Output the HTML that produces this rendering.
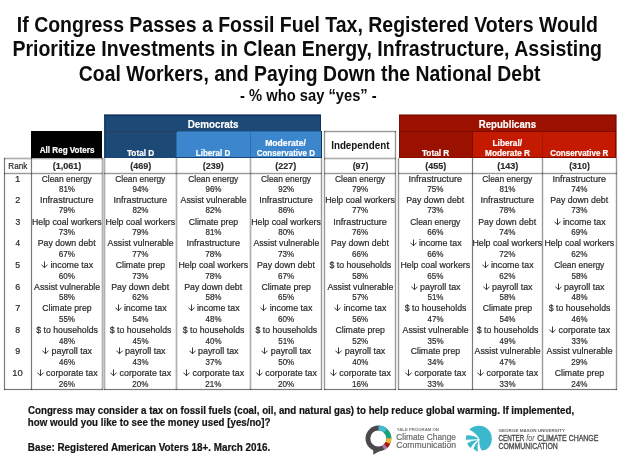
<!DOCTYPE html>
<html><head><meta charset="utf-8"><title>Fossil Fuel Tax Priorities</title>
<style>
html,body{margin:0;padding:0;background:#fff}
#page{position:relative;width:620px;height:465px;overflow:hidden;background:#fff;font-family:"Liberation Sans",sans-serif}
.r,.ar{position:absolute}
.v{width:1px}
.h{height:1px}
.v.l{background:rgba(0,0,0,.31);box-shadow:-1px 0 0 rgba(0,0,0,.11),1px 0 0 rgba(0,0,0,.11)}
.v.m{background:rgba(0,0,0,.40);box-shadow:-1px 0 0 rgba(0,0,0,.08),1px 0 0 rgba(0,0,0,.08)}
.v.d{background:rgba(0,0,0,.52);box-shadow:-1px 0 0 rgba(0,0,0,.05),1px 0 0 rgba(0,0,0,.05)}
.h.l{background:rgba(0,0,0,.31);box-shadow:0 -1px 0 rgba(0,0,0,.11),0 1px 0 rgba(0,0,0,.11)}
.h.m{background:rgba(0,0,0,.40);box-shadow:0 -1px 0 rgba(0,0,0,.08),0 1px 0 rgba(0,0,0,.08)}
.h.d{background:rgba(0,0,0,.52);box-shadow:0 -1px 0 rgba(0,0,0,.05),0 1px 0 rgba(0,0,0,.05)}
.t{position:absolute;left:0;top:0;white-space:nowrap;line-height:1;transform-origin:0 0;font-family:"Liberation Sans",sans-serif}
.lb,.pc,.rk{-webkit-text-stroke:0.2px #2a2a2a}
.sh,.hd{-webkit-text-stroke:0.2px #fff}
.n{-webkit-text-stroke:0.15px #2a2a2a}
.ft{-webkit-text-stroke:0.2px #141414}
.ly{-webkit-text-stroke:0.2px #6a6a6a}
.lm{-webkit-text-stroke:0.35px #4d4d4d}
#txt{position:absolute;left:0;top:0;width:620px;height:465px;will-change:transform}
</style></head><body>
<div id="page">
<div class="r" style="left:31px;top:131px;width:71px;height:27px;background:#000;"></div>
<div class="r" style="left:104px;top:114px;width:217px;height:1px;background:#6f839d;"></div>
<div class="r" style="left:104px;top:115px;width:217px;height:1px;background:#0f305c;"></div>
<div class="r" style="left:104px;top:116px;width:217px;height:15px;background:#1c4975;"></div>
<div class="r" style="left:104px;top:131px;width:73px;height:26px;background:#1c4975;"></div>
<div class="r" style="left:177px;top:131px;width:145px;height:1px;background:#2e6ba5;"></div>
<div class="r" style="left:177px;top:132px;width:145px;height:25px;background:#3c86cd;"></div>
<div class="r" style="left:104px;top:157px;width:218px;height:1px;background:#184478;"></div>
<div class="r" style="left:320px;top:115px;width:1px;height:16px;background:#0f305c;"></div>
<div class="r" style="left:321px;top:131px;width:1px;height:27px;background:#0f305c;"></div>
<div class="r" style="left:105px;top:116px;width:1px;height:41px;background:#153c68;"></div>
<div class="r" style="left:176px;top:132px;width:1px;height:25px;background:#2c68a1;"></div>
<div class="r" style="left:104px;top:131px;width:73px;height:1px;background:repeating-linear-gradient(90deg,#33343a 0 1px,#1c4975 1px 2px)"></div>
<div class="r" style="left:250px;top:132px;width:1px;height:25px;background:repeating-linear-gradient(180deg,#24588f 0 1px,#3c86cd 1px 2px)"></div>
<div class="r" style="left:399px;top:114px;width:218px;height:1px;background:#b87973;"></div>
<div class="r" style="left:399px;top:115px;width:218px;height:1px;background:#7d0b00;"></div>
<div class="r" style="left:399px;top:116px;width:218px;height:15px;background:#9a1100;"></div>
<div class="r" style="left:399px;top:131px;width:74px;height:26px;background:#9a1100;"></div>
<div class="r" style="left:473px;top:131px;width:144px;height:26px;background:#c41a02;"></div>
<div class="r" style="left:399px;top:131px;width:218px;height:1px;background:#7d0b00;"></div>
<div class="r" style="left:472px;top:131px;width:1px;height:26px;background:#7d0b00;"></div>
<div class="r" style="left:542px;top:132px;width:1px;height:25px;background:repeating-linear-gradient(180deg,#8e1000 0 1px,#c41a02 1px 2px)"></div>
<div class="r" style="left:399px;top:157px;width:218px;height:1px;background:#8a0e00;"></div>
<div class="r" style="left:399px;top:115px;width:1px;height:43px;background:#7d0b00;"></div>
<div class="r" style="left:615px;top:115px;width:1px;height:43px;background:#7d0b00;"></div>
<div class="r" style="left:616px;top:115px;width:1px;height:43px;background:#b16d66;"></div>
<div class="r" style="left:616px;top:114px;width:1px;height:1px;background:#d8b6b2;"></div>
<div class="r h l" style="left:4px;top:158px;width:99px"></div>
<div class="r h l" style="left:324px;top:158px;width:72px"></div>
<div class="r h m" style="left:4px;top:173px;width:99px"></div>
<div class="r h m" style="left:104px;top:173px;width:218px"></div>
<div class="r h m" style="left:324px;top:173px;width:72px"></div>
<div class="r h m" style="left:398px;top:173px;width:219px"></div>
<div class="r h d" style="left:4px;top:389px;width:99px"></div>
<div class="r h d" style="left:104px;top:389px;width:218px"></div>
<div class="r h d" style="left:324px;top:389px;width:72px"></div>
<div class="r h d" style="left:398px;top:389px;width:219px"></div>
<div class="r h m" style="left:324px;top:131px;width:72px"></div>
<div class="r v d" style="left:4px;top:158px;height:232px"></div>
<div class="r v d" style="left:31px;top:158px;height:232px"></div>
<div class="r v d" style="left:472px;top:158px;height:232px"></div>
<div class="r v m" style="left:321px;top:158px;height:232px"></div>
<div class="r v m" style="left:398px;top:158px;height:232px"></div>
<div class="r v m" style="left:542px;top:158px;height:232px"></div>
<div class="r v m" style="left:616px;top:158px;height:232px"></div>
<div class="r v l" style="left:102px;top:158px;height:232px"></div>
<div class="r v l" style="left:104px;top:158px;height:232px"></div>
<div class="r v l" style="left:176px;top:158px;height:232px"></div>
<div class="r v l" style="left:250px;top:158px;height:232px"></div>
<div class="r v m" style="left:324px;top:131px;height:259px"></div>
<div class="r v m" style="left:395px;top:131px;height:259px"></div>
<svg class="r" style="left:360px;top:420px" width="40" height="40" viewBox="0 0 40 40">
 <g transform="translate(18.4,18.5)">
  <circle r="10.5" fill="none" stroke="#4a4a4c" stroke-width="4.8"/>
  <path d="M-5.2,10.2 L-5.1,16.3 L6.2,9.6 Z" fill="#4a4a4c"/>
  <path d="M0.18,-10.50 A10.5,10.5 0 0 1 7.29,-7.55" fill="none" stroke="#42bbd3" stroke-width="4.8"/>
  <path d="M7.29,-7.55 A10.5,10.5 0 0 1 10.50,-0.27" fill="none" stroke="#17a57b" stroke-width="4.8"/>
  <path d="M10.50,-0.27 A10.5,10.5 0 0 1 9.48,4.52" fill="none" stroke="#f2b52c" stroke-width="4.8"/>
  <path d="M9.48,4.52 A10.5,10.5 0 0 1 7.29,7.55" fill="none" stroke="#ad1512" stroke-width="4.8"/>
  <path d="M7.29,7.55 A10.5,10.5 0 0 1 4.93,9.27" fill="none" stroke="#b378b0" stroke-width="4.8"/>
 </g>
</svg>
<svg class="r" style="left:462px;top:422px" width="36" height="34" viewBox="0 0 492 465">
 <g fill="#3cb7cb">
  <path d="M98,104 C150,52 262,28 342,88 C402,134 428,228 392,308 C366,362 322,394 268,388 Q226,318 240,232 Q186,150 98,104Z"/>
  <path d="M222,226 Q150,176 62,181 Q46,210 56,244 L214,237Z"/>
  <path d="M214,246 Q130,250 70,292 Q84,332 118,357 Q150,292 214,246Z"/>
  <path d="M227,256 Q175,300 156,362 Q184,394 220,406 Q202,320 227,256Z"/>
 </g>
</svg>

<div id="txt">
<span class="t title" style="font-size:21.6px;font-weight:700;color:#0c0c0c;transform:translate(16.83px,14.00px) scaleX(0.9019)">If Congress Passes a Fossil Fuel Tax, Registered Voters Would</span>
<span class="t title" style="font-size:21.6px;font-weight:700;color:#0c0c0c;transform:translate(12.43px,38.00px) scaleX(0.9032)">Prioritize Investments in Clean Energy, Infrastructure, Assisting</span>
<span class="t title" style="font-size:21.6px;font-weight:700;color:#0c0c0c;transform:translate(78.82px,63.00px) scaleX(0.8975)">Coal Workers, and Paying Down the National Debt</span>
<span class="t sub" style="font-size:15.6px;font-weight:700;color:#0c0c0c;transform:translate(240.06px,88.00px) scaleX(0.9440)">- % who say “yes” -</span>
<span class="t hd" style="font-size:11.6px;font-weight:700;color:#ffffff;transform:translate(187.66px,118.00px) scaleX(0.8497)">Democrats</span>
<span class="t hd" style="font-size:11.6px;font-weight:700;color:#ffffff;transform:translate(478.67px,118.00px) scaleX(0.8326)">Republicans</span>
<span class="t sh" style="font-size:8.8px;font-weight:700;color:#ffffff;transform:translate(39.74px,146.00px) scaleX(0.9186)">All Reg Voters</span>
<span class="t sh" style="font-size:8.8px;font-weight:700;color:#ffffff;transform:translate(126.92px,149.00px) scaleX(0.9376)">Total D</span>
<span class="t sh" style="font-size:8.8px;font-weight:700;color:#ffffff;transform:translate(195.77px,149.00px) scaleX(0.9161)">Liberal D</span>
<span class="t sh" style="font-size:8.8px;font-weight:700;color:#ffffff;transform:translate(265.18px,139.00px) scaleX(0.9788)">Moderate/</span>
<span class="t sh" style="font-size:8.8px;font-weight:700;color:#ffffff;transform:translate(256.68px,149.00px) scaleX(0.9096)">Conservative D</span>
<span class="t ind" style="font-size:11.2px;font-weight:700;color:#141414;transform:translate(331.16px,140.00px) scaleX(0.8767)">Independent</span>
<span class="t sh" style="font-size:8.8px;font-weight:700;color:#ffffff;transform:translate(421.92px,149.00px) scaleX(0.9406)">Total R</span>
<span class="t sh" style="font-size:8.8px;font-weight:700;color:#ffffff;transform:translate(492.50px,139.00px) scaleX(0.9446)">Liberal/</span>
<span class="t sh" style="font-size:8.8px;font-weight:700;color:#ffffff;transform:translate(485.00px,149.00px) scaleX(0.9411)">Moderate R</span>
<span class="t sh" style="font-size:8.8px;font-weight:700;color:#ffffff;transform:translate(550.18px,149.00px) scaleX(0.9079)">Conservative R</span>
<span class="t rk" style="font-size:8.8px;font-weight:400;color:#2a2a2a;transform:translate(8.35px,162.00px) scaleX(0.9284)">Rank</span>
<span class="t n" style="font-size:8.8px;font-weight:700;color:#2a2a2a;transform:translate(52.64px,162.00px) scaleX(1.0312)">(1,061)</span>
<span class="t n" style="font-size:8.8px;font-weight:700;color:#2a2a2a;transform:translate(130.14px,162.00px) scaleX(1.0221)">(469)</span>
<span class="t n" style="font-size:8.8px;font-weight:700;color:#2a2a2a;transform:translate(202.64px,162.00px) scaleX(1.0221)">(239)</span>
<span class="t n" style="font-size:8.8px;font-weight:700;color:#2a2a2a;transform:translate(275.14px,162.00px) scaleX(1.0221)">(227)</span>
<span class="t n" style="font-size:8.8px;font-weight:700;color:#2a2a2a;transform:translate(352.65px,162.00px) scaleX(1.0054)">(97)</span>
<span class="t n" style="font-size:8.8px;font-weight:700;color:#2a2a2a;transform:translate(425.14px,162.00px) scaleX(1.0221)">(455)</span>
<span class="t n" style="font-size:8.8px;font-weight:700;color:#2a2a2a;transform:translate(497.14px,162.00px) scaleX(1.0347)">(143)</span>
<span class="t n" style="font-size:8.8px;font-weight:700;color:#2a2a2a;transform:translate(569.14px,162.00px) scaleX(1.0094)">(310)</span>
<span class="t rk" style="font-size:8.8px;font-weight:400;color:#2a2a2a;transform:translate(14.98px,175.00px) scaleX(1.0847)">1</span>
<span class="t lb" style="font-size:8.8px;font-weight:400;color:#2a2a2a;transform:translate(41.73px,175.00px) scaleX(0.9575)">Clean energy</span>
<span class="t pc" style="font-size:8.8px;font-weight:400;color:#2a2a2a;transform:translate(58.93px,185.00px) scaleX(0.9115)">81%</span>
<span class="t lb" style="font-size:8.8px;font-weight:400;color:#2a2a2a;transform:translate(115.23px,175.00px) scaleX(0.9575)">Clean energy</span>
<span class="t pc" style="font-size:8.8px;font-weight:400;color:#2a2a2a;transform:translate(132.43px,185.00px) scaleX(0.9115)">94%</span>
<span class="t lb" style="font-size:8.8px;font-weight:400;color:#2a2a2a;transform:translate(188.23px,175.00px) scaleX(0.9575)">Clean energy</span>
<span class="t pc" style="font-size:8.8px;font-weight:400;color:#2a2a2a;transform:translate(205.43px,185.00px) scaleX(0.9115)">96%</span>
<span class="t lb" style="font-size:8.8px;font-weight:400;color:#2a2a2a;transform:translate(260.98px,175.00px) scaleX(0.9575)">Clean energy</span>
<span class="t pc" style="font-size:8.8px;font-weight:400;color:#2a2a2a;transform:translate(278.18px,185.00px) scaleX(0.9115)">92%</span>
<span class="t lb" style="font-size:8.8px;font-weight:400;color:#2a2a2a;transform:translate(334.98px,175.00px) scaleX(0.9575)">Clean energy</span>
<span class="t pc" style="font-size:8.8px;font-weight:400;color:#2a2a2a;transform:translate(352.10px,185.00px) scaleX(0.9163)">79%</span>
<span class="t lb" style="font-size:8.8px;font-weight:400;color:#2a2a2a;transform:translate(408.43px,175.00px) scaleX(1.0349)">Infrastructure</span>
<span class="t pc" style="font-size:8.8px;font-weight:400;color:#2a2a2a;transform:translate(427.35px,185.00px) scaleX(0.9163)">75%</span>
<span class="t lb" style="font-size:8.8px;font-weight:400;color:#2a2a2a;transform:translate(482.23px,175.00px) scaleX(0.9575)">Clean energy</span>
<span class="t pc" style="font-size:8.8px;font-weight:400;color:#2a2a2a;transform:translate(499.43px,185.00px) scaleX(0.9115)">81%</span>
<span class="t lb" style="font-size:8.8px;font-weight:400;color:#2a2a2a;transform:translate(552.43px,175.00px) scaleX(1.0349)">Infrastructure</span>
<span class="t pc" style="font-size:8.8px;font-weight:400;color:#2a2a2a;transform:translate(571.35px,185.00px) scaleX(0.9163)">74%</span>
<span class="t rk" style="font-size:8.8px;font-weight:400;color:#2a2a2a;transform:translate(15.19px,196.00px) scaleX(1.0375)">2</span>
<span class="t lb" style="font-size:8.8px;font-weight:400;color:#2a2a2a;transform:translate(39.93px,196.00px) scaleX(1.0349)">Infrastructure</span>
<span class="t pc" style="font-size:8.8px;font-weight:400;color:#2a2a2a;transform:translate(58.85px,206.00px) scaleX(0.9163)">79%</span>
<span class="t lb" style="font-size:8.8px;font-weight:400;color:#2a2a2a;transform:translate(113.43px,196.00px) scaleX(1.0349)">Infrastructure</span>
<span class="t pc" style="font-size:8.8px;font-weight:400;color:#2a2a2a;transform:translate(132.43px,206.00px) scaleX(0.9115)">82%</span>
<span class="t lb" style="font-size:8.8px;font-weight:400;color:#2a2a2a;transform:translate(180.62px,196.00px) scaleX(0.9932)">Assist vulnerable</span>
<span class="t pc" style="font-size:8.8px;font-weight:400;color:#2a2a2a;transform:translate(205.43px,206.00px) scaleX(0.9115)">82%</span>
<span class="t lb" style="font-size:8.8px;font-weight:400;color:#2a2a2a;transform:translate(259.18px,196.00px) scaleX(1.0349)">Infrastructure</span>
<span class="t pc" style="font-size:8.8px;font-weight:400;color:#2a2a2a;transform:translate(278.18px,206.00px) scaleX(0.9115)">86%</span>
<span class="t lb" style="font-size:8.8px;font-weight:400;color:#2a2a2a;transform:translate(325.17px,196.00px) scaleX(0.9968)">Help coal workers</span>
<span class="t pc" style="font-size:8.8px;font-weight:400;color:#2a2a2a;transform:translate(352.10px,206.00px) scaleX(0.9163)">77%</span>
<span class="t lb" style="font-size:8.8px;font-weight:400;color:#2a2a2a;transform:translate(406.17px,196.00px) scaleX(0.9951)">Pay down debt</span>
<span class="t pc" style="font-size:8.8px;font-weight:400;color:#2a2a2a;transform:translate(427.35px,206.00px) scaleX(0.9163)">73%</span>
<span class="t lb" style="font-size:8.8px;font-weight:400;color:#2a2a2a;transform:translate(480.43px,196.00px) scaleX(1.0349)">Infrastructure</span>
<span class="t pc" style="font-size:8.8px;font-weight:400;color:#2a2a2a;transform:translate(499.35px,206.00px) scaleX(0.9163)">78%</span>
<span class="t lb" style="font-size:8.8px;font-weight:400;color:#2a2a2a;transform:translate(550.17px,196.00px) scaleX(0.9951)">Pay down debt</span>
<span class="t pc" style="font-size:8.8px;font-weight:400;color:#2a2a2a;transform:translate(571.35px,206.00px) scaleX(0.9163)">73%</span>
<span class="t rk" style="font-size:8.8px;font-weight:400;color:#2a2a2a;transform:translate(15.39px,218.00px) scaleX(0.9740)">3</span>
<span class="t lb" style="font-size:8.8px;font-weight:400;color:#2a2a2a;transform:translate(31.92px,218.00px) scaleX(0.9968)">Help coal workers</span>
<span class="t pc" style="font-size:8.8px;font-weight:400;color:#2a2a2a;transform:translate(58.85px,228.00px) scaleX(0.9163)">73%</span>
<span class="t lb" style="font-size:8.8px;font-weight:400;color:#2a2a2a;transform:translate(105.42px,218.00px) scaleX(0.9968)">Help coal workers</span>
<span class="t pc" style="font-size:8.8px;font-weight:400;color:#2a2a2a;transform:translate(132.35px,228.00px) scaleX(0.9163)">79%</span>
<span class="t lb" style="font-size:8.8px;font-weight:400;color:#2a2a2a;transform:translate(188.69px,218.00px) scaleX(0.9923)">Climate prep</span>
<span class="t pc" style="font-size:8.8px;font-weight:400;color:#2a2a2a;transform:translate(205.43px,228.00px) scaleX(0.9115)">81%</span>
<span class="t lb" style="font-size:8.8px;font-weight:400;color:#2a2a2a;transform:translate(251.17px,218.00px) scaleX(0.9968)">Help coal workers</span>
<span class="t pc" style="font-size:8.8px;font-weight:400;color:#2a2a2a;transform:translate(278.18px,228.00px) scaleX(0.9115)">80%</span>
<span class="t lb" style="font-size:8.8px;font-weight:400;color:#2a2a2a;transform:translate(333.18px,218.00px) scaleX(1.0349)">Infrastructure</span>
<span class="t pc" style="font-size:8.8px;font-weight:400;color:#2a2a2a;transform:translate(352.10px,228.00px) scaleX(0.9163)">76%</span>
<span class="t lb" style="font-size:8.8px;font-weight:400;color:#2a2a2a;transform:translate(410.23px,218.00px) scaleX(0.9575)">Clean energy</span>
<span class="t pc" style="font-size:8.8px;font-weight:400;color:#2a2a2a;transform:translate(427.35px,228.00px) scaleX(0.9163)">66%</span>
<span class="t lb" style="font-size:8.8px;font-weight:400;color:#2a2a2a;transform:translate(478.17px,218.00px) scaleX(0.9951)">Pay down debt</span>
<span class="t pc" style="font-size:8.8px;font-weight:400;color:#2a2a2a;transform:translate(499.35px,228.00px) scaleX(0.9163)">74%</span>
<span class="t lb" style="font-size:8.8px;font-weight:400;color:#2a2a2a;transform:translate(562.89px,218.00px) scaleX(1.0051)">income tax</span>
<span class="t pc" style="font-size:8.8px;font-weight:400;color:#2a2a2a;transform:translate(571.35px,228.00px) scaleX(0.9163)">69%</span>
<span class="t rk" style="font-size:8.8px;font-weight:400;color:#2a2a2a;transform:translate(15.49px,239.00px) scaleX(0.9358)">4</span>
<span class="t lb" style="font-size:8.8px;font-weight:400;color:#2a2a2a;transform:translate(37.67px,239.00px) scaleX(0.9951)">Pay down debt</span>
<span class="t pc" style="font-size:8.8px;font-weight:400;color:#2a2a2a;transform:translate(58.85px,250.00px) scaleX(0.9163)">67%</span>
<span class="t lb" style="font-size:8.8px;font-weight:400;color:#2a2a2a;transform:translate(107.62px,239.00px) scaleX(0.9932)">Assist vulnerable</span>
<span class="t pc" style="font-size:8.8px;font-weight:400;color:#2a2a2a;transform:translate(132.35px,250.00px) scaleX(0.9163)">77%</span>
<span class="t lb" style="font-size:8.8px;font-weight:400;color:#2a2a2a;transform:translate(186.43px,239.00px) scaleX(1.0349)">Infrastructure</span>
<span class="t pc" style="font-size:8.8px;font-weight:400;color:#2a2a2a;transform:translate(205.35px,250.00px) scaleX(0.9163)">78%</span>
<span class="t lb" style="font-size:8.8px;font-weight:400;color:#2a2a2a;transform:translate(253.38px,239.00px) scaleX(0.9932)">Assist vulnerable</span>
<span class="t pc" style="font-size:8.8px;font-weight:400;color:#2a2a2a;transform:translate(278.10px,250.00px) scaleX(0.9163)">73%</span>
<span class="t lb" style="font-size:8.8px;font-weight:400;color:#2a2a2a;transform:translate(330.92px,239.00px) scaleX(0.9951)">Pay down debt</span>
<span class="t pc" style="font-size:8.8px;font-weight:400;color:#2a2a2a;transform:translate(352.10px,250.00px) scaleX(0.9163)">66%</span>
<span class="t lb" style="font-size:8.8px;font-weight:400;color:#2a2a2a;transform:translate(418.89px,239.00px) scaleX(1.0051)">income tax</span>
<span class="t pc" style="font-size:8.8px;font-weight:400;color:#2a2a2a;transform:translate(427.35px,250.00px) scaleX(0.9163)">66%</span>
<span class="t lb" style="font-size:8.8px;font-weight:400;color:#2a2a2a;transform:translate(472.42px,239.00px) scaleX(0.9968)">Help coal workers</span>
<span class="t pc" style="font-size:8.8px;font-weight:400;color:#2a2a2a;transform:translate(499.35px,250.00px) scaleX(0.9163)">72%</span>
<span class="t lb" style="font-size:8.8px;font-weight:400;color:#2a2a2a;transform:translate(544.42px,239.00px) scaleX(0.9968)">Help coal workers</span>
<span class="t pc" style="font-size:8.8px;font-weight:400;color:#2a2a2a;transform:translate(571.35px,250.00px) scaleX(0.9163)">62%</span>
<span class="t rk" style="font-size:8.8px;font-weight:400;color:#2a2a2a;transform:translate(15.30px,261.00px) scaleX(0.9943)">5</span>
<span class="t lb" style="font-size:8.8px;font-weight:400;color:#2a2a2a;transform:translate(50.39px,261.00px) scaleX(1.0051)">income tax</span>
<span class="t pc" style="font-size:8.8px;font-weight:400;color:#2a2a2a;transform:translate(58.85px,272.00px) scaleX(0.9163)">60%</span>
<span class="t lb" style="font-size:8.8px;font-weight:400;color:#2a2a2a;transform:translate(115.69px,261.00px) scaleX(0.9923)">Climate prep</span>
<span class="t pc" style="font-size:8.8px;font-weight:400;color:#2a2a2a;transform:translate(132.35px,272.00px) scaleX(0.9163)">73%</span>
<span class="t lb" style="font-size:8.8px;font-weight:400;color:#2a2a2a;transform:translate(178.42px,261.00px) scaleX(0.9968)">Help coal workers</span>
<span class="t pc" style="font-size:8.8px;font-weight:400;color:#2a2a2a;transform:translate(205.35px,272.00px) scaleX(0.9163)">78%</span>
<span class="t lb" style="font-size:8.8px;font-weight:400;color:#2a2a2a;transform:translate(256.92px,261.00px) scaleX(0.9951)">Pay down debt</span>
<span class="t pc" style="font-size:8.8px;font-weight:400;color:#2a2a2a;transform:translate(278.10px,272.00px) scaleX(0.9163)">67%</span>
<span class="t lb" style="font-size:8.8px;font-weight:400;color:#2a2a2a;transform:translate(329.54px,261.00px) scaleX(0.9913)">$ to households</span>
<span class="t pc" style="font-size:8.8px;font-weight:400;color:#2a2a2a;transform:translate(352.18px,272.00px) scaleX(0.9115)">58%</span>
<span class="t lb" style="font-size:8.8px;font-weight:400;color:#2a2a2a;transform:translate(400.42px,261.00px) scaleX(0.9968)">Help coal workers</span>
<span class="t pc" style="font-size:8.8px;font-weight:400;color:#2a2a2a;transform:translate(427.35px,272.00px) scaleX(0.9163)">65%</span>
<span class="t lb" style="font-size:8.8px;font-weight:400;color:#2a2a2a;transform:translate(490.89px,261.00px) scaleX(1.0051)">income tax</span>
<span class="t pc" style="font-size:8.8px;font-weight:400;color:#2a2a2a;transform:translate(499.35px,272.00px) scaleX(0.9163)">62%</span>
<span class="t lb" style="font-size:8.8px;font-weight:400;color:#2a2a2a;transform:translate(554.23px,261.00px) scaleX(0.9575)">Clean energy</span>
<span class="t pc" style="font-size:8.8px;font-weight:400;color:#2a2a2a;transform:translate(571.43px,272.00px) scaleX(0.9115)">58%</span>
<span class="t rk" style="font-size:8.8px;font-weight:400;color:#2a2a2a;transform:translate(15.20px,283.00px) scaleX(1.0155)">6</span>
<span class="t lb" style="font-size:8.8px;font-weight:400;color:#2a2a2a;transform:translate(34.12px,283.00px) scaleX(0.9932)">Assist vulnerable</span>
<span class="t pc" style="font-size:8.8px;font-weight:400;color:#2a2a2a;transform:translate(58.93px,293.00px) scaleX(0.9115)">58%</span>
<span class="t lb" style="font-size:8.8px;font-weight:400;color:#2a2a2a;transform:translate(111.17px,283.00px) scaleX(0.9951)">Pay down debt</span>
<span class="t pc" style="font-size:8.8px;font-weight:400;color:#2a2a2a;transform:translate(132.35px,293.00px) scaleX(0.9163)">62%</span>
<span class="t lb" style="font-size:8.8px;font-weight:400;color:#2a2a2a;transform:translate(184.17px,283.00px) scaleX(0.9951)">Pay down debt</span>
<span class="t pc" style="font-size:8.8px;font-weight:400;color:#2a2a2a;transform:translate(205.43px,293.00px) scaleX(0.9115)">58%</span>
<span class="t lb" style="font-size:8.8px;font-weight:400;color:#2a2a2a;transform:translate(261.44px,283.00px) scaleX(0.9923)">Climate prep</span>
<span class="t pc" style="font-size:8.8px;font-weight:400;color:#2a2a2a;transform:translate(278.10px,293.00px) scaleX(0.9163)">65%</span>
<span class="t lb" style="font-size:8.8px;font-weight:400;color:#2a2a2a;transform:translate(327.38px,283.00px) scaleX(0.9932)">Assist vulnerable</span>
<span class="t pc" style="font-size:8.8px;font-weight:400;color:#2a2a2a;transform:translate(352.18px,293.00px) scaleX(0.9115)">57%</span>
<span class="t lb" style="font-size:8.8px;font-weight:400;color:#2a2a2a;transform:translate(420.02px,283.00px) scaleX(1.0104)">payroll tax</span>
<span class="t pc" style="font-size:8.8px;font-weight:400;color:#2a2a2a;transform:translate(427.43px,293.00px) scaleX(0.9115)">51%</span>
<span class="t lb" style="font-size:8.8px;font-weight:400;color:#2a2a2a;transform:translate(492.02px,283.00px) scaleX(1.0104)">payroll tax</span>
<span class="t pc" style="font-size:8.8px;font-weight:400;color:#2a2a2a;transform:translate(499.43px,293.00px) scaleX(0.9115)">58%</span>
<span class="t lb" style="font-size:8.8px;font-weight:400;color:#2a2a2a;transform:translate(564.02px,283.00px) scaleX(1.0104)">payroll tax</span>
<span class="t pc" style="font-size:8.8px;font-weight:400;color:#2a2a2a;transform:translate(571.59px,293.00px) scaleX(0.9022)">48%</span>
<span class="t rk" style="font-size:8.8px;font-weight:400;color:#2a2a2a;transform:translate(15.19px,304.00px) scaleX(1.0375)">7</span>
<span class="t lb" style="font-size:8.8px;font-weight:400;color:#2a2a2a;transform:translate(42.19px,304.00px) scaleX(0.9923)">Climate prep</span>
<span class="t pc" style="font-size:8.8px;font-weight:400;color:#2a2a2a;transform:translate(58.93px,315.00px) scaleX(0.9115)">55%</span>
<span class="t lb" style="font-size:8.8px;font-weight:400;color:#2a2a2a;transform:translate(123.89px,304.00px) scaleX(1.0051)">income tax</span>
<span class="t pc" style="font-size:8.8px;font-weight:400;color:#2a2a2a;transform:translate(132.43px,315.00px) scaleX(0.9115)">54%</span>
<span class="t lb" style="font-size:8.8px;font-weight:400;color:#2a2a2a;transform:translate(196.89px,304.00px) scaleX(1.0051)">income tax</span>
<span class="t pc" style="font-size:8.8px;font-weight:400;color:#2a2a2a;transform:translate(205.59px,315.00px) scaleX(0.9022)">48%</span>
<span class="t lb" style="font-size:8.8px;font-weight:400;color:#2a2a2a;transform:translate(269.64px,304.00px) scaleX(1.0051)">income tax</span>
<span class="t pc" style="font-size:8.8px;font-weight:400;color:#2a2a2a;transform:translate(278.10px,315.00px) scaleX(0.9163)">60%</span>
<span class="t lb" style="font-size:8.8px;font-weight:400;color:#2a2a2a;transform:translate(343.64px,304.00px) scaleX(1.0051)">income tax</span>
<span class="t pc" style="font-size:8.8px;font-weight:400;color:#2a2a2a;transform:translate(352.18px,315.00px) scaleX(0.9115)">56%</span>
<span class="t lb" style="font-size:8.8px;font-weight:400;color:#2a2a2a;transform:translate(404.79px,304.00px) scaleX(0.9913)">$ to households</span>
<span class="t pc" style="font-size:8.8px;font-weight:400;color:#2a2a2a;transform:translate(427.59px,315.00px) scaleX(0.9022)">47%</span>
<span class="t lb" style="font-size:8.8px;font-weight:400;color:#2a2a2a;transform:translate(482.69px,304.00px) scaleX(0.9923)">Climate prep</span>
<span class="t pc" style="font-size:8.8px;font-weight:400;color:#2a2a2a;transform:translate(499.43px,315.00px) scaleX(0.9115)">54%</span>
<span class="t lb" style="font-size:8.8px;font-weight:400;color:#2a2a2a;transform:translate(548.79px,304.00px) scaleX(0.9913)">$ to households</span>
<span class="t pc" style="font-size:8.8px;font-weight:400;color:#2a2a2a;transform:translate(571.59px,315.00px) scaleX(0.9022)">46%</span>
<span class="t rk" style="font-size:8.8px;font-weight:400;color:#2a2a2a;transform:translate(15.30px,326.00px) scaleX(0.9943)">8</span>
<span class="t lb" style="font-size:8.8px;font-weight:400;color:#2a2a2a;transform:translate(36.29px,326.00px) scaleX(0.9913)">$ to households</span>
<span class="t pc" style="font-size:8.8px;font-weight:400;color:#2a2a2a;transform:translate(59.09px,337.00px) scaleX(0.9022)">48%</span>
<span class="t lb" style="font-size:8.8px;font-weight:400;color:#2a2a2a;transform:translate(109.79px,326.00px) scaleX(0.9913)">$ to households</span>
<span class="t pc" style="font-size:8.8px;font-weight:400;color:#2a2a2a;transform:translate(132.59px,337.00px) scaleX(0.9022)">45%</span>
<span class="t lb" style="font-size:8.8px;font-weight:400;color:#2a2a2a;transform:translate(182.79px,326.00px) scaleX(0.9913)">$ to households</span>
<span class="t pc" style="font-size:8.8px;font-weight:400;color:#2a2a2a;transform:translate(205.59px,337.00px) scaleX(0.9022)">40%</span>
<span class="t lb" style="font-size:8.8px;font-weight:400;color:#2a2a2a;transform:translate(255.54px,326.00px) scaleX(0.9913)">$ to households</span>
<span class="t pc" style="font-size:8.8px;font-weight:400;color:#2a2a2a;transform:translate(278.18px,337.00px) scaleX(0.9115)">51%</span>
<span class="t lb" style="font-size:8.8px;font-weight:400;color:#2a2a2a;transform:translate(335.44px,326.00px) scaleX(0.9923)">Climate prep</span>
<span class="t pc" style="font-size:8.8px;font-weight:400;color:#2a2a2a;transform:translate(352.18px,337.00px) scaleX(0.9115)">52%</span>
<span class="t lb" style="font-size:8.8px;font-weight:400;color:#2a2a2a;transform:translate(402.62px,326.00px) scaleX(0.9932)">Assist vulnerable</span>
<span class="t pc" style="font-size:8.8px;font-weight:400;color:#2a2a2a;transform:translate(427.51px,337.00px) scaleX(0.9068)">35%</span>
<span class="t lb" style="font-size:8.8px;font-weight:400;color:#2a2a2a;transform:translate(476.79px,326.00px) scaleX(0.9913)">$ to households</span>
<span class="t pc" style="font-size:8.8px;font-weight:400;color:#2a2a2a;transform:translate(499.59px,337.00px) scaleX(0.9022)">49%</span>
<span class="t lb" style="font-size:8.8px;font-weight:400;color:#2a2a2a;transform:translate(558.57px,326.00px) scaleX(1.0045)">corporate tax</span>
<span class="t pc" style="font-size:8.8px;font-weight:400;color:#2a2a2a;transform:translate(571.51px,337.00px) scaleX(0.9068)">33%</span>
<span class="t rk" style="font-size:8.8px;font-weight:400;color:#2a2a2a;transform:translate(15.29px,347.00px) scaleX(1.0155)">9</span>
<span class="t lb" style="font-size:8.8px;font-weight:400;color:#2a2a2a;transform:translate(51.52px,347.00px) scaleX(1.0104)">payroll tax</span>
<span class="t pc" style="font-size:8.8px;font-weight:400;color:#2a2a2a;transform:translate(59.09px,358.00px) scaleX(0.9022)">46%</span>
<span class="t lb" style="font-size:8.8px;font-weight:400;color:#2a2a2a;transform:translate(125.02px,347.00px) scaleX(1.0104)">payroll tax</span>
<span class="t pc" style="font-size:8.8px;font-weight:400;color:#2a2a2a;transform:translate(132.59px,358.00px) scaleX(0.9022)">43%</span>
<span class="t lb" style="font-size:8.8px;font-weight:400;color:#2a2a2a;transform:translate(198.02px,347.00px) scaleX(1.0104)">payroll tax</span>
<span class="t pc" style="font-size:8.8px;font-weight:400;color:#2a2a2a;transform:translate(205.51px,358.00px) scaleX(0.9068)">37%</span>
<span class="t lb" style="font-size:8.8px;font-weight:400;color:#2a2a2a;transform:translate(270.77px,347.00px) scaleX(1.0104)">payroll tax</span>
<span class="t pc" style="font-size:8.8px;font-weight:400;color:#2a2a2a;transform:translate(278.18px,358.00px) scaleX(0.9115)">50%</span>
<span class="t lb" style="font-size:8.8px;font-weight:400;color:#2a2a2a;transform:translate(344.77px,347.00px) scaleX(1.0104)">payroll tax</span>
<span class="t pc" style="font-size:8.8px;font-weight:400;color:#2a2a2a;transform:translate(352.34px,358.00px) scaleX(0.9022)">40%</span>
<span class="t lb" style="font-size:8.8px;font-weight:400;color:#2a2a2a;transform:translate(410.69px,347.00px) scaleX(0.9923)">Climate prep</span>
<span class="t pc" style="font-size:8.8px;font-weight:400;color:#2a2a2a;transform:translate(427.51px,358.00px) scaleX(0.9068)">34%</span>
<span class="t lb" style="font-size:8.8px;font-weight:400;color:#2a2a2a;transform:translate(474.62px,347.00px) scaleX(0.9932)">Assist vulnerable</span>
<span class="t pc" style="font-size:8.8px;font-weight:400;color:#2a2a2a;transform:translate(499.59px,358.00px) scaleX(0.9022)">47%</span>
<span class="t lb" style="font-size:8.8px;font-weight:400;color:#2a2a2a;transform:translate(546.62px,347.00px) scaleX(0.9932)">Assist vulnerable</span>
<span class="t pc" style="font-size:8.8px;font-weight:400;color:#2a2a2a;transform:translate(571.35px,358.00px) scaleX(0.9163)">29%</span>
<span class="t rk" style="font-size:8.8px;font-weight:400;color:#2a2a2a;transform:translate(12.34px,369.00px) scaleX(1.0729)">10</span>
<span class="t lb" style="font-size:8.8px;font-weight:400;color:#2a2a2a;transform:translate(46.07px,369.00px) scaleX(1.0045)">corporate tax</span>
<span class="t pc" style="font-size:8.8px;font-weight:400;color:#2a2a2a;transform:translate(58.85px,380.00px) scaleX(0.9163)">26%</span>
<span class="t lb" style="font-size:8.8px;font-weight:400;color:#2a2a2a;transform:translate(119.57px,369.00px) scaleX(1.0045)">corporate tax</span>
<span class="t pc" style="font-size:8.8px;font-weight:400;color:#2a2a2a;transform:translate(132.35px,380.00px) scaleX(0.9163)">20%</span>
<span class="t lb" style="font-size:8.8px;font-weight:400;color:#2a2a2a;transform:translate(192.57px,369.00px) scaleX(1.0045)">corporate tax</span>
<span class="t pc" style="font-size:8.8px;font-weight:400;color:#2a2a2a;transform:translate(205.35px,380.00px) scaleX(0.9163)">21%</span>
<span class="t lb" style="font-size:8.8px;font-weight:400;color:#2a2a2a;transform:translate(265.32px,369.00px) scaleX(1.0045)">corporate tax</span>
<span class="t pc" style="font-size:8.8px;font-weight:400;color:#2a2a2a;transform:translate(278.10px,380.00px) scaleX(0.9163)">20%</span>
<span class="t lb" style="font-size:8.8px;font-weight:400;color:#2a2a2a;transform:translate(339.32px,369.00px) scaleX(1.0045)">corporate tax</span>
<span class="t pc" style="font-size:8.8px;font-weight:400;color:#2a2a2a;transform:translate(351.93px,380.00px) scaleX(0.9259)">16%</span>
<span class="t lb" style="font-size:8.8px;font-weight:400;color:#2a2a2a;transform:translate(414.57px,369.00px) scaleX(1.0045)">corporate tax</span>
<span class="t pc" style="font-size:8.8px;font-weight:400;color:#2a2a2a;transform:translate(427.51px,380.00px) scaleX(0.9068)">33%</span>
<span class="t lb" style="font-size:8.8px;font-weight:400;color:#2a2a2a;transform:translate(486.57px,369.00px) scaleX(1.0045)">corporate tax</span>
<span class="t pc" style="font-size:8.8px;font-weight:400;color:#2a2a2a;transform:translate(499.51px,380.00px) scaleX(0.9068)">33%</span>
<span class="t lb" style="font-size:8.8px;font-weight:400;color:#2a2a2a;transform:translate(554.69px,369.00px) scaleX(0.9923)">Climate prep</span>
<span class="t pc" style="font-size:8.8px;font-weight:400;color:#2a2a2a;transform:translate(571.35px,380.00px) scaleX(0.9163)">24%</span>
<span class="t ft" style="font-size:10px;font-weight:700;color:#141414;transform:translate(28.01px,406.00px) scaleX(0.9730)">Congress may consider a tax on fossil fuels (coal, oil, and natural gas) to help reduce global warming. If implemented,</span>
<span class="t ft" style="font-size:10px;font-weight:700;color:#141414;transform:translate(27.82px,418.00px) scaleX(0.9727)">how would you like to see the money used [yes/no]?</span>
<span class="t ft" style="font-size:10px;font-weight:700;color:#141414;transform:translate(27.81px,443.00px) scaleX(0.9882)">Base: Registered American Voters 18+. March 2016.</span>
<span class="t lg" style="font-size:4.4px;font-weight:700;color:#777777;transform:translate(396.71px,428.00px) scaleX(0.9759)">YALE PROGRAM ON</span>
<span class="t lg ly" style="font-size:9.4px;font-weight:400;color:#6a6a6a;transform:translate(396.33px,432.00px) scaleX(0.8860)">Climate Change</span>
<span class="t lg ly" style="font-size:9.4px;font-weight:400;color:#6a6a6a;transform:translate(396.32px,440.00px) scaleX(0.9175)">Communication</span>
<span class="t lg" style="font-size:4.4px;font-weight:700;color:#666;transform:translate(498.57px,429.00px) scaleX(1.0298)">GEORGE MASON UNIVERSITY</span>
<span class="t lg lm" style="font-size:8.4px;font-weight:400;color:#4d4d4d;transform:translate(498.40px,442.00px) scaleX(0.8258)">COMMUNICATION</span>
<span class="t lg lm" style="font-size:8.4px;font-weight:400;color:#4d4d4d;transform:translate(498.44px,434.00px) scaleX(0.7479)">CENTER</span>
<span class="t lg" style="font-size:8.4px;font-weight:400;color:#4d4d4d;transform:translate(526.28px,434.00px) scaleX(0.8619);font-style:italic">for</span>
<span class="t lg lm" style="font-size:8.4px;font-weight:400;color:#4d4d4d;transform:translate(537.15px,434.00px) scaleX(0.8285)">CLIMATE CHANGE</span>
<svg class="ar" style="left:553.52px;top:218.1px" width="7.2" height="8" viewBox="0 0 7.2 8"><path d="M3.5,0.5V6.7M0.4,3.6L3.5,6.8L6.6,3.6" fill="none" stroke="#2a2a2a" stroke-width="0.95"/></svg>
<svg class="ar" style="left:409.52px;top:239.1px" width="7.2" height="8" viewBox="0 0 7.2 8"><path d="M3.5,0.5V6.7M0.4,3.6L3.5,6.8L6.6,3.6" fill="none" stroke="#2a2a2a" stroke-width="0.95"/></svg>
<svg class="ar" style="left:41.02px;top:261.1px" width="7.2" height="8" viewBox="0 0 7.2 8"><path d="M3.5,0.5V6.7M0.4,3.6L3.5,6.8L6.6,3.6" fill="none" stroke="#2a2a2a" stroke-width="0.95"/></svg>
<svg class="ar" style="left:481.52px;top:261.1px" width="7.2" height="8" viewBox="0 0 7.2 8"><path d="M3.5,0.5V6.7M0.4,3.6L3.5,6.8L6.6,3.6" fill="none" stroke="#2a2a2a" stroke-width="0.95"/></svg>
<svg class="ar" style="left:410.65px;top:283.1px" width="7.2" height="8" viewBox="0 0 7.2 8"><path d="M3.5,0.5V6.7M0.4,3.6L3.5,6.8L6.6,3.6" fill="none" stroke="#2a2a2a" stroke-width="0.95"/></svg>
<svg class="ar" style="left:482.65px;top:283.1px" width="7.2" height="8" viewBox="0 0 7.2 8"><path d="M3.5,0.5V6.7M0.4,3.6L3.5,6.8L6.6,3.6" fill="none" stroke="#2a2a2a" stroke-width="0.95"/></svg>
<svg class="ar" style="left:554.65px;top:283.1px" width="7.2" height="8" viewBox="0 0 7.2 8"><path d="M3.5,0.5V6.7M0.4,3.6L3.5,6.8L6.6,3.6" fill="none" stroke="#2a2a2a" stroke-width="0.95"/></svg>
<svg class="ar" style="left:114.53px;top:304.1px" width="7.2" height="8" viewBox="0 0 7.2 8"><path d="M3.5,0.5V6.7M0.4,3.6L3.5,6.8L6.6,3.6" fill="none" stroke="#2a2a2a" stroke-width="0.95"/></svg>
<svg class="ar" style="left:187.53px;top:304.1px" width="7.2" height="8" viewBox="0 0 7.2 8"><path d="M3.5,0.5V6.7M0.4,3.6L3.5,6.8L6.6,3.6" fill="none" stroke="#2a2a2a" stroke-width="0.95"/></svg>
<svg class="ar" style="left:260.27px;top:304.1px" width="7.2" height="8" viewBox="0 0 7.2 8"><path d="M3.5,0.5V6.7M0.4,3.6L3.5,6.8L6.6,3.6" fill="none" stroke="#2a2a2a" stroke-width="0.95"/></svg>
<svg class="ar" style="left:334.27px;top:304.1px" width="7.2" height="8" viewBox="0 0 7.2 8"><path d="M3.5,0.5V6.7M0.4,3.6L3.5,6.8L6.6,3.6" fill="none" stroke="#2a2a2a" stroke-width="0.95"/></svg>
<svg class="ar" style="left:549.02px;top:326.1px" width="7.2" height="8" viewBox="0 0 7.2 8"><path d="M3.5,0.5V6.7M0.4,3.6L3.5,6.8L6.6,3.6" fill="none" stroke="#2a2a2a" stroke-width="0.95"/></svg>
<svg class="ar" style="left:42.15px;top:347.1px" width="7.2" height="8" viewBox="0 0 7.2 8"><path d="M3.5,0.5V6.7M0.4,3.6L3.5,6.8L6.6,3.6" fill="none" stroke="#2a2a2a" stroke-width="0.95"/></svg>
<svg class="ar" style="left:115.65px;top:347.1px" width="7.2" height="8" viewBox="0 0 7.2 8"><path d="M3.5,0.5V6.7M0.4,3.6L3.5,6.8L6.6,3.6" fill="none" stroke="#2a2a2a" stroke-width="0.95"/></svg>
<svg class="ar" style="left:188.65px;top:347.1px" width="7.2" height="8" viewBox="0 0 7.2 8"><path d="M3.5,0.5V6.7M0.4,3.6L3.5,6.8L6.6,3.6" fill="none" stroke="#2a2a2a" stroke-width="0.95"/></svg>
<svg class="ar" style="left:261.40px;top:347.1px" width="7.2" height="8" viewBox="0 0 7.2 8"><path d="M3.5,0.5V6.7M0.4,3.6L3.5,6.8L6.6,3.6" fill="none" stroke="#2a2a2a" stroke-width="0.95"/></svg>
<svg class="ar" style="left:335.40px;top:347.1px" width="7.2" height="8" viewBox="0 0 7.2 8"><path d="M3.5,0.5V6.7M0.4,3.6L3.5,6.8L6.6,3.6" fill="none" stroke="#2a2a2a" stroke-width="0.95"/></svg>
<svg class="ar" style="left:36.52px;top:369.1px" width="7.2" height="8" viewBox="0 0 7.2 8"><path d="M3.5,0.5V6.7M0.4,3.6L3.5,6.8L6.6,3.6" fill="none" stroke="#2a2a2a" stroke-width="0.95"/></svg>
<svg class="ar" style="left:110.03px;top:369.1px" width="7.2" height="8" viewBox="0 0 7.2 8"><path d="M3.5,0.5V6.7M0.4,3.6L3.5,6.8L6.6,3.6" fill="none" stroke="#2a2a2a" stroke-width="0.95"/></svg>
<svg class="ar" style="left:183.03px;top:369.1px" width="7.2" height="8" viewBox="0 0 7.2 8"><path d="M3.5,0.5V6.7M0.4,3.6L3.5,6.8L6.6,3.6" fill="none" stroke="#2a2a2a" stroke-width="0.95"/></svg>
<svg class="ar" style="left:255.78px;top:369.1px" width="7.2" height="8" viewBox="0 0 7.2 8"><path d="M3.5,0.5V6.7M0.4,3.6L3.5,6.8L6.6,3.6" fill="none" stroke="#2a2a2a" stroke-width="0.95"/></svg>
<svg class="ar" style="left:329.77px;top:369.1px" width="7.2" height="8" viewBox="0 0 7.2 8"><path d="M3.5,0.5V6.7M0.4,3.6L3.5,6.8L6.6,3.6" fill="none" stroke="#2a2a2a" stroke-width="0.95"/></svg>
<svg class="ar" style="left:405.02px;top:369.1px" width="7.2" height="8" viewBox="0 0 7.2 8"><path d="M3.5,0.5V6.7M0.4,3.6L3.5,6.8L6.6,3.6" fill="none" stroke="#2a2a2a" stroke-width="0.95"/></svg>
<svg class="ar" style="left:477.02px;top:369.1px" width="7.2" height="8" viewBox="0 0 7.2 8"><path d="M3.5,0.5V6.7M0.4,3.6L3.5,6.8L6.6,3.6" fill="none" stroke="#2a2a2a" stroke-width="0.95"/></svg>
</div>
</div>
</body></html>
